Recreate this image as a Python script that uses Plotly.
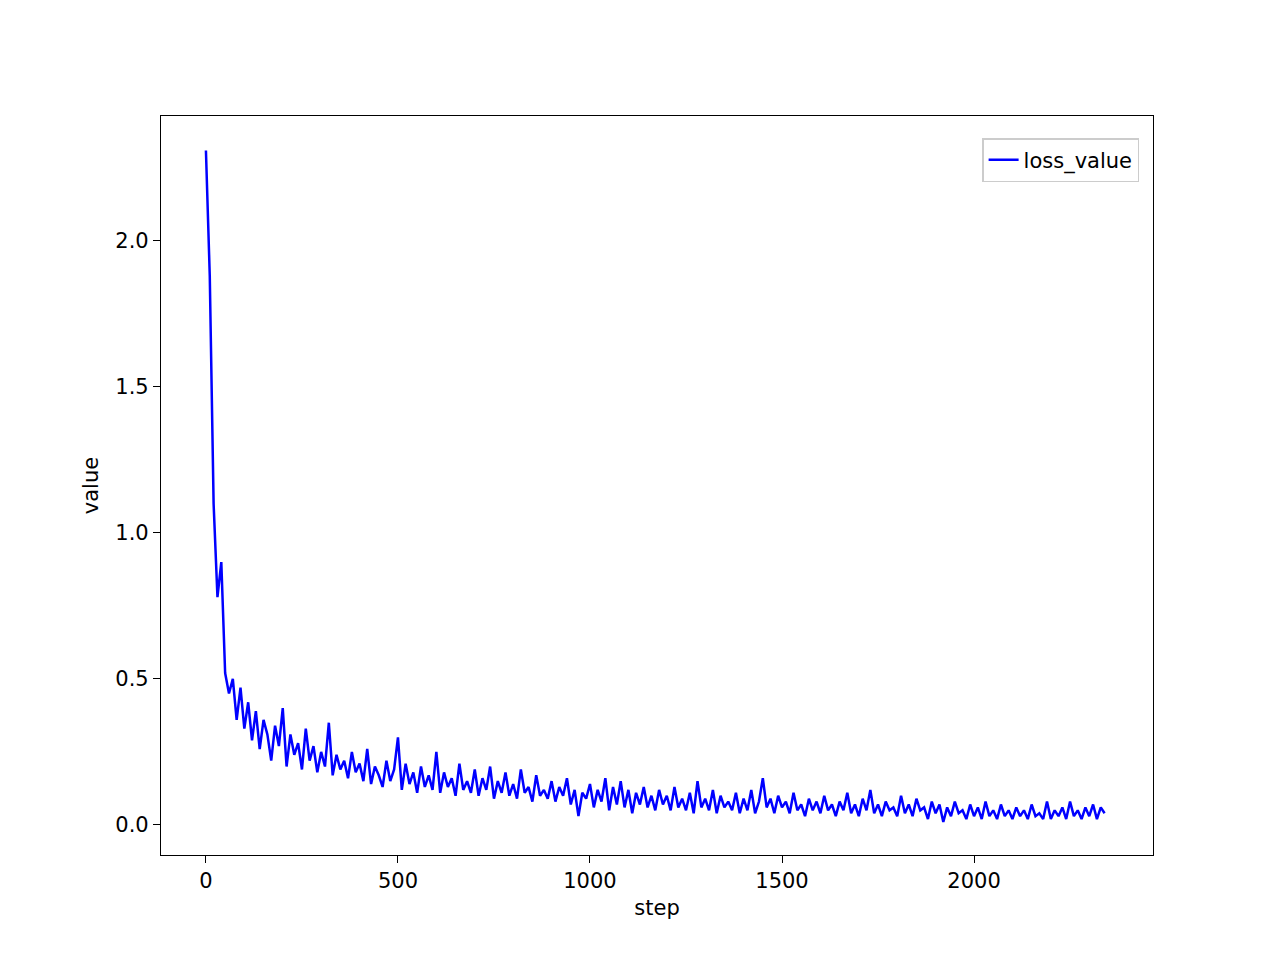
import plotly.graph_objects as go

step_interval = 10
loss_value = [
2.31, 1.88, 1.10, 0.78, 0.90, 0.52, 0.45, 0.50, 0.36, 0.47,
0.33, 0.42, 0.29, 0.39, 0.26, 0.36, 0.31, 0.22, 0.34, 0.27,
0.40, 0.20, 0.31, 0.24, 0.28, 0.19, 0.33, 0.22, 0.27, 0.18,
0.25, 0.20, 0.35, 0.17, 0.24, 0.19, 0.22, 0.16, 0.25, 0.18,
0.21, 0.15, 0.26, 0.14, 0.20, 0.17, 0.13, 0.22, 0.15, 0.19,
0.30, 0.12, 0.21, 0.14, 0.18, 0.11, 0.20, 0.13, 0.17, 0.12,
0.25, 0.11, 0.18, 0.13, 0.16, 0.10, 0.21, 0.12, 0.15, 0.11,
0.19, 0.10, 0.16, 0.12, 0.20, 0.09, 0.15, 0.11, 0.18, 0.10,
0.14, 0.09, 0.19, 0.11, 0.13, 0.08, 0.17, 0.10, 0.12, 0.09,
0.15, 0.08, 0.13, 0.10, 0.16, 0.07, 0.12, 0.03, 0.11, 0.09,
0.14, 0.06, 0.12, 0.08, 0.16, 0.05, 0.13, 0.07, 0.15, 0.06,
0.12, 0.04, 0.11, 0.07, 0.13, 0.06, 0.10, 0.05, 0.12, 0.07,
0.10, 0.05, 0.13, 0.06, 0.09, 0.05, 0.11, 0.04, 0.15, 0.06,
0.09, 0.05, 0.12, 0.04, 0.10, 0.06, 0.08, 0.05, 0.11, 0.04,
0.09, 0.05, 0.12, 0.04, 0.08, 0.16, 0.06, 0.09, 0.04, 0.10,
0.06, 0.08, 0.04, 0.11, 0.05, 0.07, 0.03, 0.09, 0.05, 0.08,
0.04, 0.10, 0.05, 0.07, 0.03, 0.08, 0.05, 0.11, 0.04, 0.07,
0.03, 0.09, 0.05, 0.12, 0.04, 0.07, 0.03, 0.08, 0.05, 0.06,
0.03, 0.10, 0.04, 0.07, 0.03, 0.09, 0.05, 0.06, 0.02, 0.08,
0.04, 0.07, 0.01, 0.06, 0.03, 0.08, 0.04, 0.05, 0.02, 0.07,
0.03, 0.06, 0.02, 0.08, 0.03, 0.05, 0.02, 0.07, 0.03, 0.05,
0.02, 0.06, 0.03, 0.05, 0.02, 0.07, 0.03, 0.04, 0.02, 0.08,
0.02, 0.05, 0.03, 0.06, 0.02, 0.08, 0.03, 0.05, 0.02, 0.06,
0.03, 0.07, 0.02, 0.06, 0.04,
]
steps = [i * step_interval for i in range(len(loss_value))]
x_ticks = [0, 500, 1000, 1500, 2000]
y_ticks = [0.0, 0.5, 1.0, 1.5, 2.0]
y_tick_text = ["0.0", "0.5", "1.0", "1.5", "2.0"]

fig = go.Figure(go.Scatter(x=steps, y=loss_value, mode="lines", name="loss_value",
                           line=dict(color="blue", width=2.5)))
axis_common = dict(showgrid=False, zeroline=False, showline=True, mirror=True,
                   linecolor="black", linewidth=1.2, ticks="outside", ticklen=7,
                   tickcolor="black", tickfont=dict(size=21, color="black"))
fig.update_layout(
    width=1280, height=960, plot_bgcolor="white", paper_bgcolor="white",
    font=dict(family="DejaVu Sans", size=20, color="black"),
    margin=dict(l=153, r=135, t=108, b=113),
    showlegend=True,
    legend=dict(x=0.986, y=0.97, xanchor="right", yanchor="top",
                bordercolor="#cccccc", borderwidth=1.5, font=dict(size=21)),
    xaxis=dict(range=[-117, 2466], tickvals=x_ticks,
               title=dict(text="step", standoff=8, font=dict(size=21)), **axis_common),
    yaxis=dict(range=[-0.103, 2.428], tickvals=y_ticks, ticktext=y_tick_text,
               title=dict(text="value", standoff=10, font=dict(size=21)), **axis_common),
)
fig.write_html("out.html")
